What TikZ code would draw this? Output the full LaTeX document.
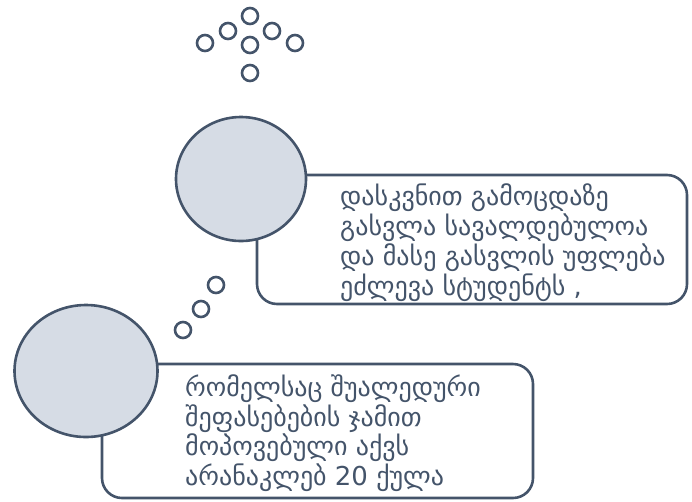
\documentclass[tikz,border=0pt]{standalone}
\usepackage{fontspec}
\usetikzlibrary{shapes.geometric}
\newfontfamily\geofont{DejaVu Sans}
\definecolor{slate}{HTML}{44546A}
\definecolor{bubble}{HTML}{D6DCE5}
\begin{document}
\begin{tikzpicture}[x=1pt,y=-1pt,
  dot/.style={shape=circle,draw=slate,line width=2.6pt,minimum size=16pt,inner sep=0pt},
  bigbubble/.style={shape=ellipse,draw=slate,fill=bubble,line width=2.6pt,inner sep=0pt},
  card/.style={shape=rectangle,rounded corners=20pt,draw=slate,line width=2.6pt,inner sep=0pt},
  words/.style={anchor=base west,align=left,text=slate,inner sep=0pt,
    font=\geofont\fontsize{26}{30}\selectfont}]
\useasboundingbox (0,0) rectangle (692,501);
% top cluster
\node(d1) at (205,43)[dot]{};
\node(d2) at (228,31)[dot]{};
\node(d3) at (250,16)[dot]{};
\node(d4) at (272,31)[dot]{};
\node(d5) at (295,43)[dot]{};
\node(d6) at (250,45)[dot]{};
\node(d7) at (250,73)[dot]{};
% first bubble
\node(card1) at (472,239.5)[card,minimum width=430pt,minimum height=129pt]{};
\node(bub1) at (241,179)[bigbubble,minimum width=130pt,minimum height=124pt]{};
\node(txt1) at (340,295)[words]{დასკვნით გამოცდაზე\\გასვლა სავალდებულოა\\და მასე გასვლის უფლება\\ეძლევა სტუდენტს ,};
% trail
\node(e1) at (216,285)[dot]{};
\node(e2) at (201,309)[dot]{};
\node(e3) at (183,330)[dot]{};
% second bubble
\node(card2) at (317.5,431)[card,minimum width=431pt,minimum height=134pt]{};
\node(bub2) at (86,371)[bigbubble,minimum width=143pt,minimum height=132pt]{};
\node(txt2) at (185,485)[words,font=\geofont\fontsize{26}{29.4}\selectfont]{რომელსაც შუალედური\\შეფასებების ჯამით\\მოპოვებული აქვს\\არანაკლებ 20 ქულა};
\end{tikzpicture}
\end{document}
